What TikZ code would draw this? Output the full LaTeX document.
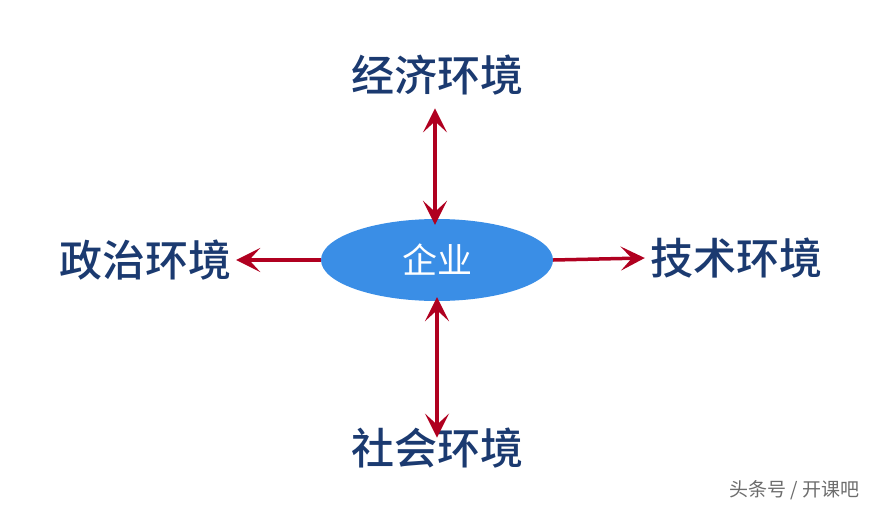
\documentclass[tikz,border=0pt]{standalone}
\usepackage{fontspec}
\newfontfamily\cjk{Noto Sans CJK SC}[BoldFont={Noto Sans CJK SC Medium}]
\usetikzlibrary{shapes.geometric,arrows.meta}
\definecolor{navy}{HTML}{1B3A70}
\definecolor{ared}{HTML}{B00020}
\definecolor{eblue}{HTML}{3A8EE6}
\begin{document}
\begin{tikzpicture}[x=1pt,y=-1pt,
  lab/.style={font=\cjk\bfseries\fontsize{43}{46}\selectfont, text=navy, inner sep=0pt},
  tip/.style={},
  conn/.style={draw=ared, line width=3.5pt, -{Stealth[length=24pt,width=24pt,inset=11pt]}},
  conn2/.style={draw=ared, line width=3.5pt, {Stealth[length=24pt,width=24pt,inset=11pt]}-{Stealth[length=24pt,width=24pt,inset=11pt]}}]
\useasboundingbox (0,0) rectangle (874,506);
\node[ellipse, fill=eblue, minimum width=232pt, minimum height=82pt, inner sep=0pt, text=white, font=\cjk\fontsize{35}{38}\selectfont] (c) at (437,260) {企业};
\node[lab] (t) at (437,75) {经济环境};
\node[lab] (b) at (437,448) {社会环境};
\node[lab] (l) at (145,260) {政治环境};
\node[lab] (r) at (736,258) {技术环境};
\draw[conn2] ([xshift=-2pt,yshift=-13pt]t.south) -- ([xshift=-2pt,yshift=-6pt]c.north);
\draw[conn2] ([yshift=4pt]c.south) -- ([yshift=-10pt]b.north);
\draw[conn] (c.west) -- ([xshift=5pt]l.east);
\draw[conn] (c.east) -- ([xshift=-5pt]r.west);
\node[font=\cjk\fontsize{19}{21}\selectfont, text=gray!85!black, anchor=east] (w) at (863,490) {头条号 / 开课吧};
\end{tikzpicture}
\end{document}
